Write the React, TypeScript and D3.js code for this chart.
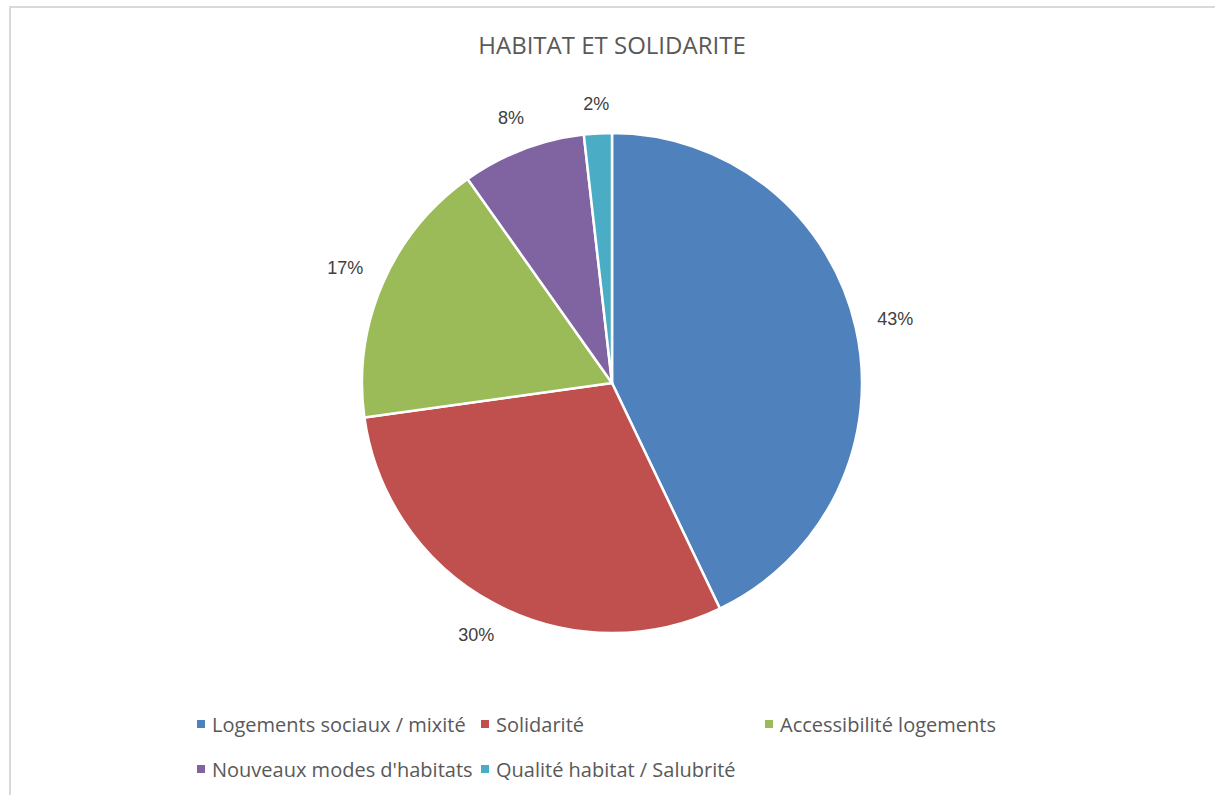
import React from "react";
import * as d3 from "d3";

const title = "HABITAT ET SOLIDARITE";
const categories = [
  "Logements sociaux / mixité",
  "Solidarité",
  "Accessibilité logements",
  "Nouveaux modes d'habitats",
  "Qualité habitat / Salubrité",
];
const values = [42.9, 29.9, 17.4, 8.0, 1.8];
const colors = ["#4f81bd", "#c0504d", "#9bbb59", "#8064a2", "#4bacc6"];

const W = 1215;
const H = 795;

function App() {
  const cx = 612;
  const cy = 383;
  const radius = 250;
  const total = d3.sum(values);

  const pie = d3.pie<number>().sort(null).value((d) => d);
  const arcs = pie(values);
  const arc = d3.arc<d3.PieArcDatum<number>>().innerRadius(0).outerRadius(radius);
  const pct = (v: number) => Math.round((v / total) * 100) + "%";

  // labels sit outside the slice, box edge a fixed gap from the rim
  const labelFs = 18;
  const gap = 21;
  const labelPos = (a: d3.PieArcDatum<number>, txt: string) => {
    const mid = (a.startAngle + a.endAngle) / 2;
    const ux = Math.sin(mid);
    const uy = -Math.cos(mid);
    const w = labelFs * (0.556 * (txt.length - 1) + 0.889);
    const h = labelFs * 0.9;
    const r = radius + gap + Math.abs(ux) * (w / 2) + Math.abs(uy) * (h / 2);
    return [ux * r, uy * r];
  };

  // legend grid
  const colX = (i: number) => 197 + (i % 3) * 284;
  const rowY = (i: number) => 724 + Math.floor(i / 3) * 45;

  return (
    <svg
      width={W}
      height={H}
      style={{ position: "absolute", left: 0, top: 0, background: "#fff" }}
    >
      <rect x={10} y={7} width={W + 20} height={H + 20} fill="#fff" stroke="#d9d9d9" strokeWidth={2} />
      <text
        x={cx}
        y={54}
        textAnchor="middle"
        fontFamily="'Open Sans', sans-serif"
        fontSize={24}
        fill="#595959"
      >
        {title}
      </text>
      <g transform={`translate(${cx},${cy})`}>
        {arcs.map((a, i) => (
          <path key={i} d={arc(a) || ""} fill={colors[i]} stroke="#fff" strokeWidth={2.5} strokeLinejoin="round" />
        ))}
        {arcs.map((a, i) => {
          const txt = pct(a.data);
          const [x, y] = labelPos(a, txt);
          return (
            <text
              key={"l" + i}
              x={x}
              y={y}
              textAnchor="middle"
              dominantBaseline="central"
              fontFamily="'Liberation Sans', Arial, sans-serif"
              fontSize={labelFs}
              fill="#404040"
            >
              {txt}
            </text>
          );
        })}
      </g>
      <g fontFamily="'Open Sans', sans-serif" fontSize={20} fill="#595959">
        {categories.map((c, i) => (
          <g key={c} transform={`translate(${colX(i)},${rowY(i)})`}>
            <rect x={0} y={-4} width={8} height={8} fill={colors[i]} />
            <text x={15} y={0} dominantBaseline="central">
              {c}
            </text>
          </g>
        ))}
      </g>
    </svg>
  );
}

export default App;
